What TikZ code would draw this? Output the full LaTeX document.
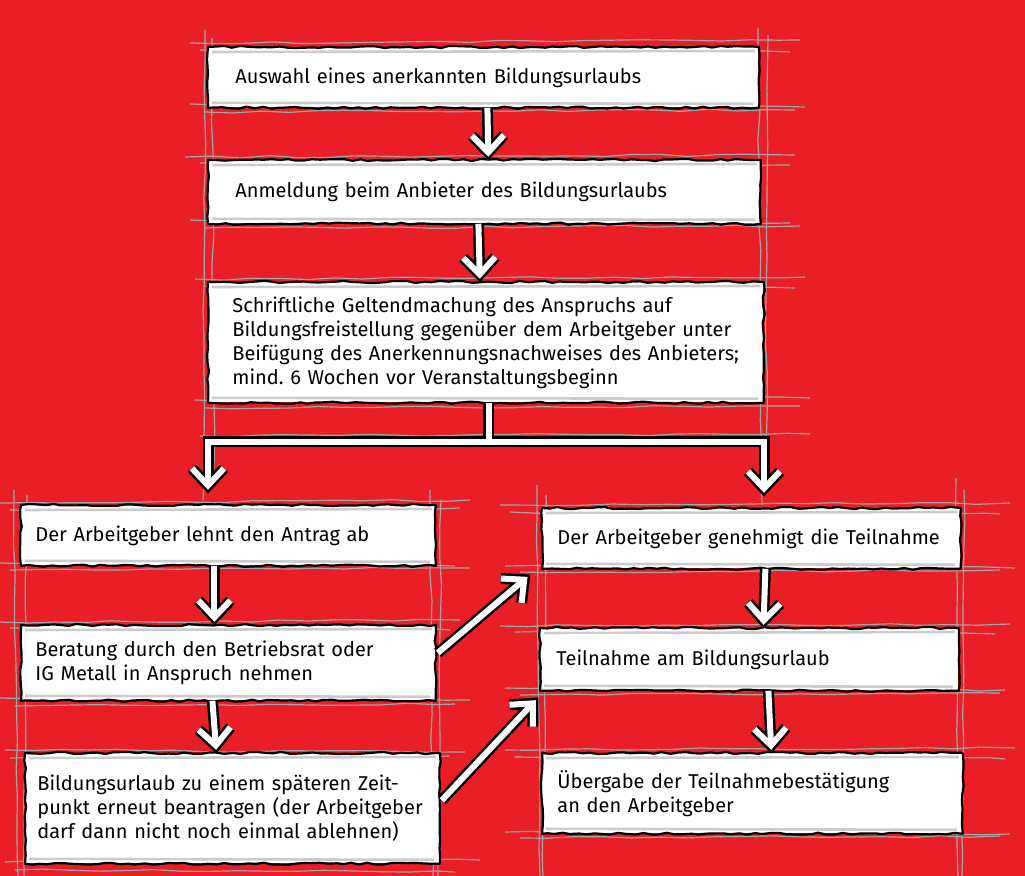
\documentclass[tikz,border=0pt]{standalone}
\usepackage{fontspec}
\setmainfont{Fira Sans}
\usetikzlibrary{calc,decorations.pathmorphing}
\definecolor{bg}{RGB}{234,30,38}
\definecolor{sk}{RGB}{165,165,165}
\tikzset{
  boxnode/.style={fill=white, draw=none, inner ysep=0pt, align=left, anchor=north west,
    font=\fontsize{10}{12}\selectfont},
  border/.style={draw=black, line width=1.1pt, decorate,
    decoration={random steps, segment length=4pt, amplitude=0.55pt}, line join=round},
  guide/.style={draw=sk, line width=0.6pt, decorate,
    decoration={random steps, segment length=14pt, amplitude=0.6pt}},
  shadeline/.style={draw=black!20, line width=1.3pt},
  arrblack/.style={draw=black, line width=5.5pt, line join=miter},
  arrwhite/.style={draw=white, line width=3pt, line join=miter},
}
\newcommand\mkbox[7]{%
  \pgfmathsetmacro\bxw{(#4-2*#6)*0.5}%
  \pgfmathsetmacro\bxh{#5*0.5}%
  \pgfmathsetmacro\bxi{#6*0.5}%
  \node[boxnode, inner xsep=\bxi pt, text width=\bxw pt, minimum height=\bxh pt] (#1) at (#2,#3) {#7};
  \draw[shadeline] ($(#1.north west)+(4,5)$) -- ($(#1.north east)+(-4,4)$);
  \draw[shadeline] ($(#1.south west)+(4,-5)$) -- ($(#1.south east)+(-6,-4)$);
  \draw[border] (#1.north west) -- (#1.north east) -- (#1.south east) -- (#1.south west) -- cycle;
}
\newcommand\harrow[2]{%
  \coordinate (hs) at #1; \coordinate (he) at #2;
  \coordinate (ht) at ($(he)!3.8pt!(hs)$);
  \coordinate (hb) at ($(ht)!8.5pt!(hs)$);
  \coordinate (hl) at ($(hb)!8pt!90:(hs)$);
  \coordinate (hr) at ($(hb)!8pt!-90:(hs)$);
  \draw[arrblack] (hs) -- (ht);
  \draw[arrblack] (hl) -- (ht) -- (hr);
  \draw[arrwhite] (hs) -- (ht);
  \draw[arrwhite] (hl) -- (ht) -- (hr);
}
\begin{document}
\frenchspacing
\begin{tikzpicture}[x=0.5pt,y=-0.5pt]
\pgfmathsetseed{7}
\useasboundingbox (0,0) rectangle (1025,876);
\fill[bg] (0,0) rectangle (1025,876);

% gray construction lines
\foreach \xa/\ya/\xb/\yb in {
  205/30/203/500, 212/38/214/470, 758/28/762/505, 768/35/766/470,
  190/43/800/40, 200/50/790/52, 190/104/805/107, 205/112/795/110,
  185/157/795/155, 200/163/790/165, 190/220/790/223, 205/228/800/226,
  195/279/805/277, 205/286/795/288, 195/400/810/398, 205/408/800/406,
  200/436/810/434,
  14/490/18/876, 27/495/24/876, 430/490/433/876, 441/500/438/876,
  0/503/470/500, 10/510/460/508, 0/563/455/566, 10/570/470/568,
  0/622/460/620, 10/628/450/630, 0/698/470/700, 15/706/455/704,
  5/750/465/752, 10/758/450/756, 5/862/480/860, 15/870/455/872,
  537/485/540/876, 546/495/543/876, 956/478/958/876, 964/490/962/876,
  500/505/1010/503, 510/512/1000/514, 505/566/1015/568, 520/572/1000/570,
  500/626/1010/624, 515/632/995/634, 505/688/1005/690, 520/695/1000/693,
  505/750/1015/748, 515/757/1005/759, 505/832/1010/834, 520/838/1000/836}
  \draw[guide] (\xa,\ya) -- (\xb,\yb);

% boxes
\mkbox{n1}{208}{47}{550}{60}{27}{Auswahl eines anerkannten Bildungsurlaubs}
\mkbox{n2}{208}{160}{552}{63}{27}{Anmeldung beim Anbieter des Bildungsurlaubs}
\mkbox{n3}{208}{282}{555}{120}{24}{Schriftliche Geltendmachung des Anspruchs auf\\Bildungsfreistellung gegenüber dem Arbeitgeber unter\\Beifügung des Anerkennungsnachweises des Anbieters;\\mind. 6 Wochen vor Veranstaltungsbeginn}
\mkbox{L1}{21}{505}{414}{60}{14}{Der Arbeitgeber lehnt den Antrag ab}
\mkbox{L2}{21}{625}{414}{75}{14}{Beratung durch den Betriebsrat oder\\IG Metall in Anspruch nehmen}
\mkbox{L3}{25}{753}{414}{110}{12}{Bildungsurlaub zu einem späteren Zeit-\\punkt erneut beantragen (der Arbeitgeber\\darf dann nicht noch einmal ablehnen)}
\mkbox{R1}{542}{508}{418}{60}{15}{Der Arbeitgeber genehmigt die Teilnahme}
\mkbox{R2}{540}{628}{418}{62}{16}{Teilnahme am Bildungsurlaub}
\mkbox{R3}{542}{753}{420}{80}{15}{Übergabe der Teilnahmebestätigung\\an den Arbeitgeber}

% straight arrows
\harrow{($(n1.south)+(4,0)$)}{($(n2.north)+(4,0)$)}
\harrow{($(n2.south)+(-6,0)$)}{($(n3.north)+(-6,0)$)}
\harrow{($(L1.south)+(-14,0)$)}{($(L2.north)+(-14,0)$)}
\harrow{($(L2.south)+(-16,0)$)}{($(L3.north)+(-16,0)$)}
\harrow{($(R1.south)+(14,0)$)}{($(R2.north)+(14,0)$)}
\harrow{($(R2.south)+(19,0)$)}{($(R3.north)+(19,0)$)}

% split connector
\coordinate (jl) at (208,442);
\coordinate (jr) at (764,442);
\coordinate (js) at ($(n3.south)+(3,0)$);
\draw[arrblack, line cap=rect] (jl) -- (jr);
\draw[arrblack] (js) -- (js |- jl);
\harrow{(jl)}{($(jl |- L1.north)+(0,-12)$)}
\harrow{(jr)}{($(jr |- R1.north)+(0,-12)$)}
\draw[arrwhite, line cap=rect] (jl) -- (jr);
\draw[arrwhite] (js) -- (js |- jl);

% diagonal arrows
\harrow{($(L2.east)+(2,-10)$)}{($(R1.south west)+(-12,6)$)}
\harrow{($(L3.east)+(2,-8)$)}{($(R2.south west)+(-2,7)$)}
\end{tikzpicture}
\end{document}
